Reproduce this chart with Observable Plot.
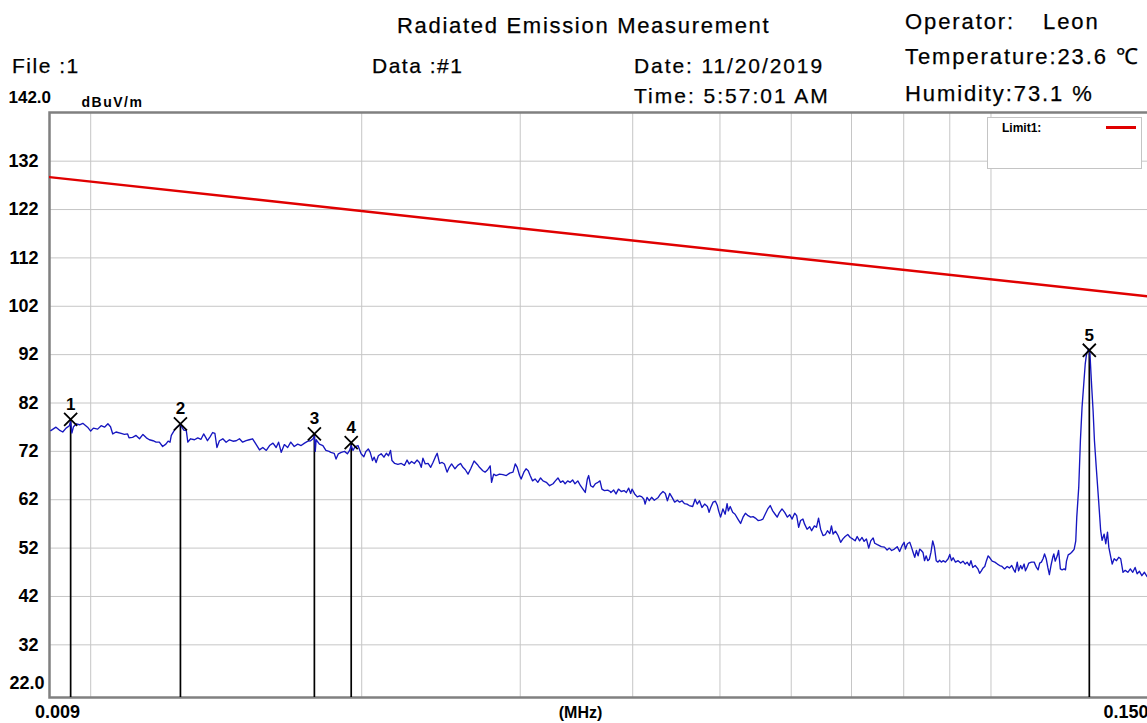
<!DOCTYPE html>
<html><head><meta charset="utf-8">
<script src="https://cdn.jsdelivr.net/npm/d3@7"></script>
<script src="https://cdn.jsdelivr.net/npm/@observablehq/plot@0.6"></script>
<style>
html,body{margin:0;padding:0;background:#fff;}
body{overflow:hidden;width:1147px;height:723px;position:relative;font-family:"Liberation Sans",Arial,sans-serif;}
#chart{position:absolute;left:0;top:0;width:1150px;}
#chart svg{max-width:none !important;}
.h{position:absolute;font-size:21px;line-height:21px;white-space:pre;color:#000;letter-spacing:1.5px;-webkit-text-stroke:0.25px #000;}
.r{font-size:22px;line-height:22px;letter-spacing:1.9px;}
#legend{position:absolute;left:987px;top:117px;width:155px;height:52px;background:#fff;border:1px solid #c4c4c4;box-sizing:border-box;}
#legend .lt{position:absolute;left:14px;top:4px;font-size:12px;line-height:12px;font-weight:bold;}
#legend .ll{position:absolute;left:118px;top:8px;width:30px;height:3px;background:#e00000;}
</style></head><body>
<div id="chart"></div>
<div class="h" style="left:397px;top:15px;font-size:22px;line-height:22px;letter-spacing:1.7px">Radiated Emission Measurement</div>
<div class="h" style="left:12px;top:55px">File :1</div>
<div class="h" style="left:372px;top:55px">Data :#1</div>
<div class="h" style="left:634px;top:55px;letter-spacing:1.9px">Date: 11/20/2019</div>
<div class="h" style="left:634px;top:85px;letter-spacing:2px">Time: 5:57:01 AM</div>
<div class="h r" style="left:905px;top:11px">Operator:</div>
<div class="h r" style="left:1043px;top:11px">Leon</div>
<div class="h r" style="left:905px;top:46px">Temperature:23.6 ℃</div>
<div class="h r" style="left:905px;top:83px">Humidity:73.1 %</div>
<div id="legend"><span class="lt">Limit1:</span><div class="ll"></div></div>
<script>
// frequency in kHz (axis shown in MHz), level in dBuV/m
const traceKHz = [
9.03,9.15,9.23,9.31,9.39,9.47,9.50,9.53,9.57,9.64,9.72,9.80,9.92,10.00,10.07,10.18,10.27,10.36,10.45,10.52,10.58,10.67,10.81,10.90,10.99,11.03,11.13,11.23,11.33,11.43,11.53,11.62,11.73,11.82,11.92,12.02,12.12,12.19,12.25,12.29,12.38,12.47,12.58,12.69,12.77,12.82,12.91,13.04,13.15,13.26,13.35,13.43,13.48,13.57,13.66,13.74,13.81,13.90,14.02,14.14,14.26,14.39,14.51,14.63,14.75,14.88,15.00,15.13,15.26,15.40,15.53,15.67,15.80,15.94,16.07,16.17,16.28,16.41,16.55,16.68,16.83,16.98,17.13,17.28,17.43,17.55,17.66,17.72,17.76,17.80,17.95,18.11,18.25,18.40,
18.48,18.64,18.73,18.84,18.98,19.14,19.28,19.39,19.47,19.56,19.67,19.81,19.97,20.11,20.22,20.34,20.44,20.56,20.65,20.75,20.87,21.02,21.17,21.30,21.42,21.53,21.61,21.76,21.94,22.13,22.31,22.46,22.58,22.72,22.88,23.04,23.18,23.29,23.39,23.53,23.70,23.86,24.00,24.14,24.26,24.41,24.57,24.71,24.88,25.02,25.17,25.39,25.57,25.75,25.91,26.07,26.25,26.43,26.66,26.88,27.03,27.26,27.42,27.60,27.78,27.88,28.03,28.20,28.45,28.70,28.95,29.20,29.45,29.62,29.77,29.95,30.07,30.28,30.45,30.62,30.77,30.96,31.16,31.38,31.60,31.80,32.07,32.34,32.63,32.82,33.04,33.26,33.46,33.65,33.87,34.09,34.30,34.51,34.76,35.00,35.22,35.43,35.62,35.74,35.92,36.14,36.35,36.60,36.79,36.97,37.21,37.52,37.76,
37.83,38.10,38.33,38.57,38.84,39.12,39.35,39.59,39.79,39.93,40.20,40.47,40.71,40.95,41.16,41.29,41.49,41.73,41.98,42.27,42.66,42.95,43.22,43.48,43.71,43.97,44.24,44.53,44.84,45.10,45.37,45.66,45.96,46.22,46.63,46.92,47.17,47.45,47.75,48.08,48.42,48.63,48.83,49.13,49.42,49.67,49.83,50.08,50.38,50.67,50.92,51.08,51.33,51.65,51.97,52.35,52.71,53.04,53.36,53.73,54.09,54.42,54.74,55.12,55.48,55.81,56.13,56.50,56.86,57.22,57.57,57.88,58.23,58.60,59.00,59.41,59.77,60.13,60.53,60.84,61.15,61.45,61.82,62.07,62.48,62.90,63.21,63.66,64.00,64.34,64.68,65.08,65.48,65.82,66.21,66.50,66.78,67.18,67.63,68.08,68.48,68.87,69.33,69.78,70.21,70.65,71.02,71.46,71.91,72.29,72.72,73.15,73.53,73.98,74.28,74.79,
75.54,76.16,76.67,77.11,77.57,78.11,78.68,79.16,79.66,80.08,80.35,80.76,81.24,81.60,81.95,82.29,82.64,83.00,83.33,83.68,84.04,84.37,84.73,85.08,85.42,85.77,86.16,86.53,86.93,87.32,87.69,88.08,88.47,89.01,89.63,90.00,90.39,90.78,91.32,91.94,92.54,93.09,93.63,94.09,94.62,95.01,95.45,96.04,96.73,97.14,97.57,98.01,98.42,98.85,99.29,99.70,100.31,100.98,101.67,102.26,102.87,103.54,104.23,104.82,105.45,106.02,106.38,106.95,107.32,107.89,108.28,108.85,109.22,109.79,110.16,110.92,111.69,112.34,112.82,113.27,113.76,114.24,114.69,115.17,115.65,116.11,116.59,117.12,117.44,117.85,118.48,118.88,119.42,119.95,120.58,120.99,121.30,121.84,122.34,122.87,123.41,123.72,124.22,124.54,125.17,125.70,126.23,126.86,127.27,127.68,128.12,128.43,128.75,128.93,129.16,129.40,129.85,130.30,130.90,131.70,132.39,132.88,133.57,134.13,134.72,135.17,135.87,136.36,137.05,137.85,138.65,139.35,140.18,140.98,141.92,142.83,143.71,144.58,145.33,146.20,147.10,148.08,149.09,150.00
];
const traceDB = [
76.3,77.0,76.4,76.0,76.8,77.3,78.2,75.8,77.1,77.7,77.5,77.8,77.0,76.2,76.8,76.6,77.3,77.0,77.7,77.1,75.6,76.0,75.7,75.5,75.6,74.8,74.9,75.3,74.6,75.5,74.8,74.4,74.2,73.9,73.9,73.0,73.5,74.1,73.9,75.3,76.3,77.0,77.5,76.4,76.3,73.9,74.6,74.4,74.8,74.5,75.6,74.8,74.2,75.0,75.9,75.7,72.8,74.2,74.6,73.9,74.4,74.1,74.2,74.6,73.9,74.2,74.4,74.6,73.5,72.3,72.8,72.2,73.2,73.7,72.8,73.9,71.8,73.4,72.8,73.9,73.0,73.5,73.2,73.7,74.1,74.2,74.6,75.2,72.0,74.4,73.5,73.2,72.2,72.0,
71.8,71.6,70.4,71.5,71.8,72.0,71.5,72.2,73.2,72.2,73.0,73.2,71.5,70.9,72.0,72.5,71.8,70.1,70.8,69.7,71.1,71.5,70.8,71.6,71.1,72.2,70.1,69.5,69.3,69.5,69.1,70.2,69.4,69.9,69.5,70.2,69.7,68.7,70.6,69.4,69.5,68.7,69.7,70.8,71.6,69.5,69.7,69.4,67.7,68.7,69.4,68.4,69.1,69.5,68.7,68.2,67.3,68.4,70.0,69.3,68.7,68.0,67.7,68.2,69.0,65.6,67.3,67.0,67.3,67.2,67.0,67.5,67.7,69.4,68.7,67.0,66.3,67.7,68.4,68.0,67.0,65.9,66.3,65.6,66.5,65.9,65.6,64.9,65.3,65.9,66.5,65.6,65.9,65.3,65.9,65.6,66.1,65.3,65.9,64.9,64.2,63.5,66.3,67.0,64.9,64.6,65.3,65.6,65.9,64.2,63.9,64.0,63.7,
63.5,64.0,63.2,64.2,63.7,63.9,63.5,64.4,63.3,64.2,63.2,62.6,62.8,62.6,62.1,61.1,62.5,61.8,62.5,61.9,62.4,63.2,63.7,63.3,61.8,63.3,62.5,61.5,61.9,61.5,61.8,61.2,61.1,60.8,60.6,62.1,61.1,61.8,60.4,61.1,60.6,59.4,60.4,61.5,61.7,60.8,59.7,58.4,60.1,59.0,61.2,59.7,60.6,59.4,59.0,58.0,57.1,58.4,59.2,58.7,58.4,58.5,58.2,57.7,57.8,58.0,59.0,60.1,60.8,59.7,59.0,58.4,59.4,60.1,59.4,58.4,58.9,58.0,59.2,58.7,56.3,57.7,58.0,57.0,55.9,56.4,55.6,56.6,56.3,58.2,55.9,54.6,54.8,55.6,55.0,56.6,54.9,55.5,54.6,53.2,53.9,54.4,54.8,54.2,53.9,53.5,54.4,53.5,54.2,53.4,53.9,52.0,53.5,54.1,53.0,52.7,
52.3,52.2,51.6,52.0,51.5,51.8,52.3,51.3,52.5,53.2,51.8,52.9,53.2,52.2,51.1,50.1,51.5,50.4,51.8,51.5,51.1,49.4,50.4,49.4,49.7,51.1,53.5,52.2,49.4,49.1,49.5,49.1,49.4,49.1,49.8,50.7,49.4,50.0,49.1,49.4,48.9,49.3,48.7,49.1,48.4,49.4,48.0,48.4,47.7,46.8,47.3,47.9,48.2,49.4,50.4,50.0,49.3,49.1,48.7,48.4,48.2,47.7,48.2,47.9,48.4,47.5,47.0,49.1,47.3,48.4,47.7,48.7,47.3,48.2,48.9,49.1,49.1,48.0,47.5,48.9,49.1,49.8,50.8,49.8,48.0,46.5,48.4,50.1,50.8,49.3,50.4,51.5,47.7,47.5,47.7,47.5,49.3,50.6,50.8,51.1,51.5,51.8,53.5,58.4,64.6,74.2,81.1,86.6,90.1,92.1,92.8,93.2,92.5,90.8,88.0,85.2,80.4,74.2,68.7,61.8,55.6,53.6,54.9,52.9,55.3,52.2,50.1,48.7,49.8,49.4,50.1,49.8,47.0,47.4,47.0,47.7,47.0,48.0,46.7,47.2,46.3,47.0,46.1,46.4
];
const limitKHz = [9, 150];
const limitDB = [128.7, 104.0];
const markerIds = ["1", "2", "3", "4", "5"];
const markerKHz = [9.50, 12.58, 17.72, 19.47, 128.6];
const markerDB = [78.6, 77.7, 75.6, 73.8, 92.9];
const yTicks = [32, 42, 52, 62, 72, 82, 92, 102, 112, 122, 132];
const yTopLabel = "142.0", yBottomLabel = "22.0";
const xGridKHz = [10, 20, 30, 40, 50, 60, 70, 80, 90, 100];
const xStartLabel = "0.009", xEndLabel = "0.150", xUnitLabel = "(MHz)", yUnitLabel = "dBuV/m";

const trace = traceKHz.map((f, i) => ({f, v: traceDB[i]}));
const limit = limitKHz.map((f, i) => ({f, v: limitDB[i]}));
const markers = markerIds.map((id, i) => ({id, f: markerKHz[i], v: markerDB[i]}));

const bold = {fontSize: 18, fontWeight: "bold", fill: "#000"};
const chart = Plot.plot({
  width: 1150, height: 723,
  marginTop: 112, marginBottom: 26, marginLeft: 49, marginRight: 1,
  style: {fontFamily: '"Liberation Sans", Arial, sans-serif', background: "transparent", maxWidth: "none", overflow: "visible"},
  x: {type: "log", domain: [9, 150], label: null},
  y: {domain: [22, 142], range: [692.7, 112.3], label: null},
  marks: [
    Plot.gridX(xGridKHz, {stroke: "#c6c6c6", strokeOpacity: 1, strokeWidth: 1}),
    Plot.gridY(yTicks, {stroke: "#c6c6c6", strokeOpacity: 1, strokeWidth: 1}),
    Plot.frame({stroke: "#808080", strokeWidth: 2.5}),
    Plot.axisY(yTicks, {tickSize: 0, tickPadding: 11, ...bold}),
    Plot.axisY([142], {tickSize: 0, tickPadding: 41, textAnchor: "start", dy: -15, tickFormat: () => yTopLabel, ...bold, fontSize: 17}),
    Plot.axisY([22], {tickSize: 0, tickPadding: 5, dy: -10, tickFormat: () => yBottomLabel, ...bold}),
    Plot.text([yUnitLabel], {frameAnchor: "top-left", dx: 32, dy: -15, textAnchor: "start", fontSize: 14, fontWeight: "bold", fill: "#000"}),
    Plot.axisX([9], {tickSize: 0, tickPadding: 8, dx: 8, tickFormat: () => xStartLabel, ...bold}),
    Plot.axisX([150], {tickSize: 0, tickPadding: 8, dx: -1, textAnchor: "end", tickFormat: () => xEndLabel, ...bold}),
    Plot.text([xUnitLabel], {frameAnchor: "bottom", lineAnchor: "middle", dx: -19, dy: 15, fontSize: 16, fontWeight: "bold", fill: "#000"}),
    Plot.line(limit, {x: "f", y: "v", stroke: "#e00000", strokeWidth: 2.5, clip: true}),
    Plot.ruleX(markers, {x: "f", y1: 0, y2: "v", stroke: "#000", strokeWidth: 1.7, clip: true}),
    Plot.line(trace, {x: "f", y: "v", stroke: "#1616c0", strokeWidth: 1.35, clip: true}),
    Plot.dot(markers, {x: "f", y: "v", symbol: "times", r: 6, stroke: "#000", strokeWidth: 1.8}),
    Plot.text(markers, {x: "f", y: "v", text: "id", dy: -15, fontSize: 17, fontWeight: "bold", fill: "#000"})
  ]
});
document.getElementById("chart").appendChild(chart);
d3.select(chart).selectAll("text").filter(function(){ return this.textContent === yUnitLabel; }).style("letter-spacing", "1.5px");
</script>
</body></html>
